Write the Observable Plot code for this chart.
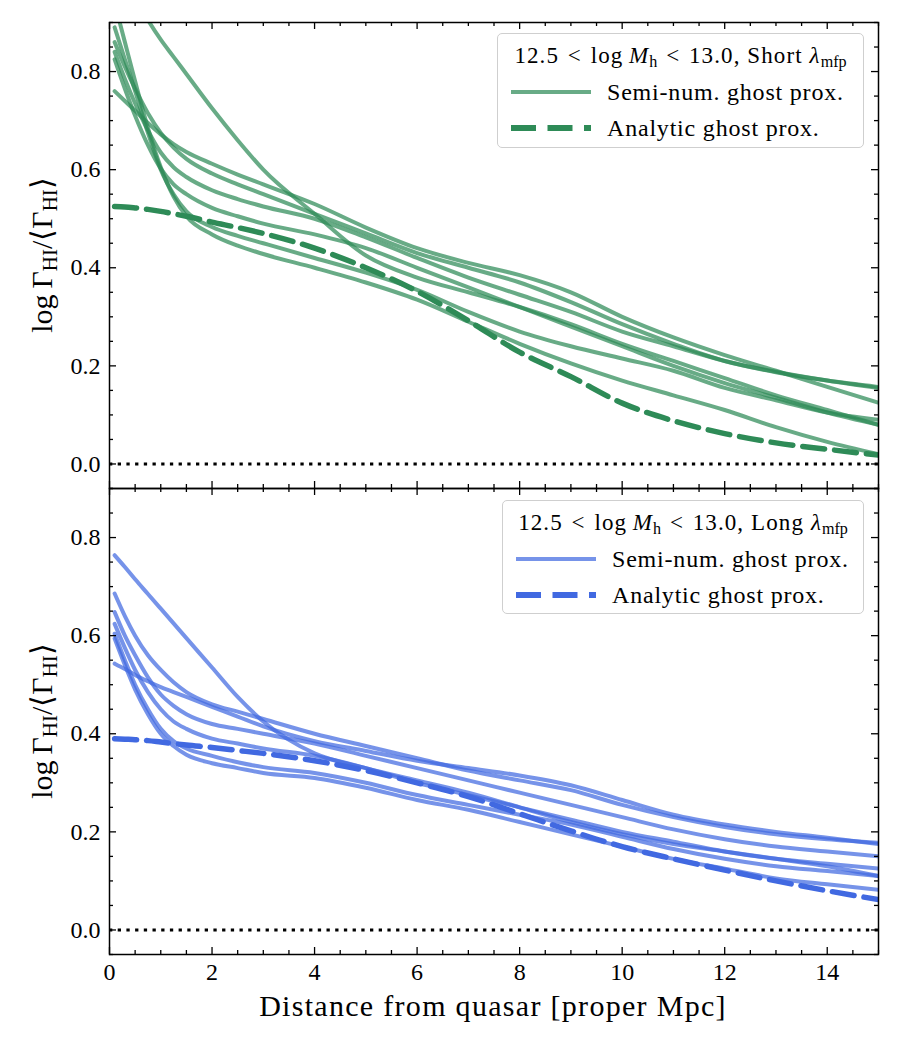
<!DOCTYPE html>
<html><head><meta charset="utf-8">
<script src="https://cdn.jsdelivr.net/npm/d3@7"></script>
<script src="https://cdn.jsdelivr.net/npm/@observablehq/plot@0.6"></script>
<style>
body{margin:0;background:#fff;}
#wrap{position:relative;width:900px;height:1050px;font-family:"Liberation Serif",serif;color:#000;overflow:hidden;}
.panel{position:absolute;left:0;}
.ylab{position:absolute;font-size:30px;white-space:nowrap;transform:translate(-50%,-50%) rotate(-90deg);line-height:1;}
.xlab{position:absolute;font-size:30px;letter-spacing:1.3px;white-space:nowrap;transform:translate(-50%,-50%);line-height:1;}
.legend{position:absolute;border:1.3px solid #cfcfcf;border-radius:5px;background:rgba(255,255,255,0.85);box-sizing:border-box;}
.legend .title{position:absolute;left:0;right:0;text-align:center;font-size:23px;letter-spacing:1.1px;white-space:nowrap;line-height:1;}
.legend .entry{position:absolute;font-size:24px;letter-spacing:0.8px;white-space:nowrap;line-height:1;}
.legend svg{position:absolute;}
sub{font-size:0.7em;vertical-align:-0.25em;line-height:0;letter-spacing:0;}
</style></head>
<body><div id="wrap"></div>
<script>
// ---------------- data ----------------
const distance = [0.1, 0.3, 0.5, 0.75, 1, 1.25, 1.5, 2, 2.5, 3, 4, 5, 6, 7, 8, 9, 10, 11, 12, 13, 14, 15];

const shortSemiA = [0.89, 0.825, 0.76, 0.675, 0.60, 0.55, 0.515, 0.483, 0.465, 0.45, 0.42, 0.39, 0.355, 0.31, 0.27, 0.24, 0.215, 0.19, 0.155, 0.13, 0.105, 0.09];
const shortSemiB = [0.94, 0.86, 0.78, 0.685, 0.605, 0.545, 0.505, 0.468, 0.445, 0.428, 0.40, 0.37, 0.335, 0.29, 0.245, 0.205, 0.17, 0.14, 0.11, 0.075, 0.045, 0.02];
const shortSemiC = [0.86, 0.81, 0.765, 0.715, 0.675, 0.645, 0.622, 0.592, 0.57, 0.55, 0.51, 0.47, 0.43, 0.40, 0.37, 0.33, 0.285, 0.245, 0.21, 0.188, 0.17, 0.155];
const shortSemiD = [0.84, 0.785, 0.735, 0.68, 0.635, 0.605, 0.585, 0.558, 0.54, 0.525, 0.50, 0.462, 0.42, 0.38, 0.345, 0.31, 0.27, 0.24, 0.21, 0.187, 0.17, 0.157];
const shortSemiE = [0.825, 0.765, 0.71, 0.65, 0.602, 0.57, 0.55, 0.522, 0.505, 0.49, 0.468, 0.44, 0.40, 0.36, 0.32, 0.28, 0.24, 0.2, 0.165, 0.135, 0.105, 0.08];
const shortSemiF = [0.76, 0.74, 0.72, 0.695, 0.672, 0.652, 0.636, 0.612, 0.59, 0.57, 0.53, 0.482, 0.44, 0.41, 0.385, 0.35, 0.30, 0.258, 0.222, 0.19, 0.157, 0.125];
const shortSemiG = [1.02, 0.985, 0.95, 0.905, 0.865, 0.83, 0.795, 0.725, 0.66, 0.60, 0.51, 0.425, 0.38, 0.35, 0.32, 0.285, 0.245, 0.21, 0.175, 0.14, 0.11, 0.08];
const shortAnalytic = [0.525, 0.524, 0.522, 0.519, 0.515, 0.51, 0.505, 0.493, 0.482, 0.47, 0.44, 0.40, 0.352, 0.292, 0.228, 0.178, 0.124, 0.088, 0.062, 0.043, 0.03, 0.018];

const longSemi1 = [0.764, 0.74, 0.715, 0.685, 0.655, 0.625, 0.595, 0.535, 0.475, 0.425, 0.36, 0.33, 0.305, 0.28, 0.25, 0.22, 0.195, 0.175, 0.16, 0.145, 0.13, 0.11];
const longSemi2 = [0.543, 0.532, 0.52, 0.507, 0.495, 0.485, 0.475, 0.455, 0.435, 0.415, 0.385, 0.365, 0.345, 0.33, 0.315, 0.295, 0.265, 0.235, 0.215, 0.2, 0.188, 0.175];
const longSemi3 = [0.686, 0.64, 0.60, 0.56, 0.53, 0.505, 0.485, 0.46, 0.445, 0.43, 0.40, 0.375, 0.35, 0.325, 0.305, 0.285, 0.255, 0.23, 0.21, 0.195, 0.185, 0.178];
const longSemi4 = [0.648, 0.60, 0.56, 0.515, 0.48, 0.457, 0.44, 0.42, 0.41, 0.40, 0.38, 0.355, 0.33, 0.305, 0.28, 0.255, 0.23, 0.205, 0.185, 0.17, 0.16, 0.15];
const longSemi5 = [0.624, 0.575, 0.53, 0.485, 0.45, 0.425, 0.41, 0.39, 0.38, 0.37, 0.355, 0.33, 0.30, 0.275, 0.25, 0.225, 0.20, 0.18, 0.16, 0.145, 0.135, 0.125];
const longSemi6 = [0.604, 0.55, 0.50, 0.45, 0.41, 0.385, 0.37, 0.355, 0.342, 0.332, 0.32, 0.30, 0.275, 0.255, 0.235, 0.215, 0.19, 0.165, 0.145, 0.13, 0.12, 0.11];
const longSemi7 = [0.594, 0.54, 0.49, 0.44, 0.40, 0.375, 0.357, 0.34, 0.33, 0.32, 0.31, 0.29, 0.265, 0.245, 0.22, 0.195, 0.17, 0.145, 0.125, 0.105, 0.093, 0.082];
const longAnalytic = [0.39, 0.389, 0.388, 0.386, 0.383, 0.38, 0.377, 0.372, 0.366, 0.36, 0.345, 0.325, 0.30, 0.272, 0.237, 0.202, 0.17, 0.145, 0.122, 0.10, 0.08, 0.062];

const xTicks = [0, 2, 4, 6, 8, 10, 12, 14];
const yTicks = [0.0, 0.2, 0.4, 0.6, 0.8];
const xDomain = [0, 15];
const yDomain = [-0.05, 0.9];

const xLabel = "Distance from quasar [proper Mpc]";
const yLabelHTML = "log&#8201;&Gamma;<sub>HI</sub>/&#10216;&Gamma;<sub>HI</sub>&#10217;";
const legendTitles = ["12.5&#8196;&lt;&#8196;log&#8201;<i>M</i><sub>h</sub>&#8196;&lt;&#8196;13.0, Short <i>&lambda;</i><sub>mfp</sub>",
                      "12.5&#8196;&lt;&#8196;log&#8201;<i>M</i><sub>h</sub>&#8196;&lt;&#8196;13.0, Long <i>&lambda;</i><sub>mfp</sub>"];
const legendEntries = ["Semi-num. ghost prox.", "Analytic ghost prox."];
const colors = ["seagreen", "royalblue"];

// ---------------- drawing ----------------
const W = 900, mL = 109, mR = 22;
const xMinor = d3.range(0, 15.001, 0.5).filter(v => !xTicks.includes(v));
const yMinor = d3.range(-0.05, 0.9001, 0.05).map(v => +v.toFixed(2)).filter(v => !yTicks.some(t => Math.abs(t - v) < 1e-9));

function panel({semi, analytic, color, height, marginTop, marginBottom, showX}) {
  const ih = height - marginTop - marginBottom;
  const iw = W - mL - mR;
  const semiData = semi.flatMap((ys, i) => ys.map((y, j) => ({x: distance[j], y, s: i})));
  const anaData = analytic.map((y, j) => ({x: distance[j], y}));
  const tk = {stroke: "black", strokeWidth: 1.3};
  const marks = [
    Plot.line(semiData, {x: "x", y: "y", z: "s", curve: "monotone-x", stroke: color, strokeOpacity: 0.72, strokeWidth: 4, clip: true}),
    Plot.line(anaData, {x: "x", y: "y", curve: "monotone-x", stroke: color, strokeWidth: 5.5, strokeDasharray: "22,10", clip: true}),
    Plot.ruleY([0], {stroke: "black", strokeWidth: 3, strokeDasharray: "3.3,5.4"}),
    Plot.ruleX(xTicks, {...tk, insetBottom: ih - 7}),
    Plot.ruleX(xTicks, {...tk, insetTop: ih - 7}),
    Plot.ruleX(xMinor, {...tk, insetBottom: ih - 4}),
    Plot.ruleX(xMinor, {...tk, insetTop: ih - 4}),
    Plot.ruleY(yTicks, {...tk, insetRight: iw - 7}),
    Plot.ruleY(yTicks, {...tk, insetLeft: iw - 7}),
    Plot.ruleY(yMinor, {...tk, insetRight: iw - 4}),
    Plot.ruleY(yMinor, {...tk, insetLeft: iw - 4}),
    Plot.axisY(yTicks, {tickSize: 0, tickPadding: 9, tickFormat: d3.format(".1f"), fontSize: 24, label: null}),
    Plot.frame({stroke: "black", strokeWidth: 1.5})
  ];
  if (showX) marks.push(Plot.axisX(xTicks, {tickSize: 0, tickPadding: 8, fontSize: 24, label: null}));
  return Plot.plot({
    width: W, height, marginLeft: mL, marginRight: mR, marginTop, marginBottom,
    x: {domain: xDomain, axis: showX ? undefined : null},
    y: {domain: yDomain},
    style: {fontFamily: "Liberation Serif, serif", fontSize: "24px", background: "transparent", overflow: "visible"},
    marks
  });
}

const wrap = document.getElementById("wrap");

function place(el, top) {
  el.classList.add("panel");
  el.style.top = top + "px";
  wrap.appendChild(el);
}

place(panel({semi: [shortSemiA, shortSemiB, shortSemiC, shortSemiD, shortSemiE, shortSemiF, shortSemiG],
             analytic: shortAnalytic, color: colors[0], height: 488, marginTop: 22, marginBottom: 0, showX: false}), 0);
place(panel({semi: [longSemi1, longSemi2, longSemi3, longSemi4, longSemi5, longSemi6, longSemi7],
             analytic: longAnalytic, color: colors[1], height: 562, marginTop: 0, marginBottom: 96, showX: true}), 488);

function addDiv(cls, html, css) {
  const d = document.createElement("div");
  d.className = cls;
  d.innerHTML = html;
  Object.assign(d.style, css);
  return d;
}

wrap.appendChild(addDiv("ylab", yLabelHTML, {left: "42px", top: "255px"}));
wrap.appendChild(addDiv("ylab", yLabelHTML, {left: "42px", top: "721px"}));
wrap.appendChild(addDiv("xlab", xLabel, {left: "493px", top: "1006px"}));

function legend(i, box) {
  const color = colors[i];
  const lg = addDiv("legend", "", {left: box.left + "px", top: box.top + "px", width: box.width + "px", height: box.height + "px"});
  lg.appendChild(addDiv("title", legendTitles[i], {top: "10px"}));
  const ns = "http://www.w3.org/2000/svg";
  [0, 1].forEach(k => {
    const yc = 58 + k * 36;
    const svg = document.createElementNS(ns, "svg");
    svg.setAttribute("width", 90); svg.setAttribute("height", 12);
    svg.style.left = "12px"; svg.style.top = (yc - 6) + "px";
    const ln = document.createElementNS(ns, "line");
    ln.setAttribute("x1", 1); ln.setAttribute("x2", 81); ln.setAttribute("y1", 6); ln.setAttribute("y2", 6);
    ln.setAttribute("stroke", color);
    if (k === 0) { ln.setAttribute("stroke-width", 4); ln.setAttribute("stroke-opacity", 0.72); }
    else { ln.setAttribute("stroke-width", 6); ln.setAttribute("stroke-dasharray", "25,11.5"); }
    svg.appendChild(ln);
    lg.appendChild(svg);
    lg.appendChild(addDiv("entry", legendEntries[k], {left: "109px", top: (yc - 12) + "px"}));
  });
  wrap.appendChild(lg);
}
legend(0, {left: 497, top: 33, width: 367, height: 115});
legend(1, {left: 502, top: 500, width: 362, height: 114});
</script>
</body></html>
